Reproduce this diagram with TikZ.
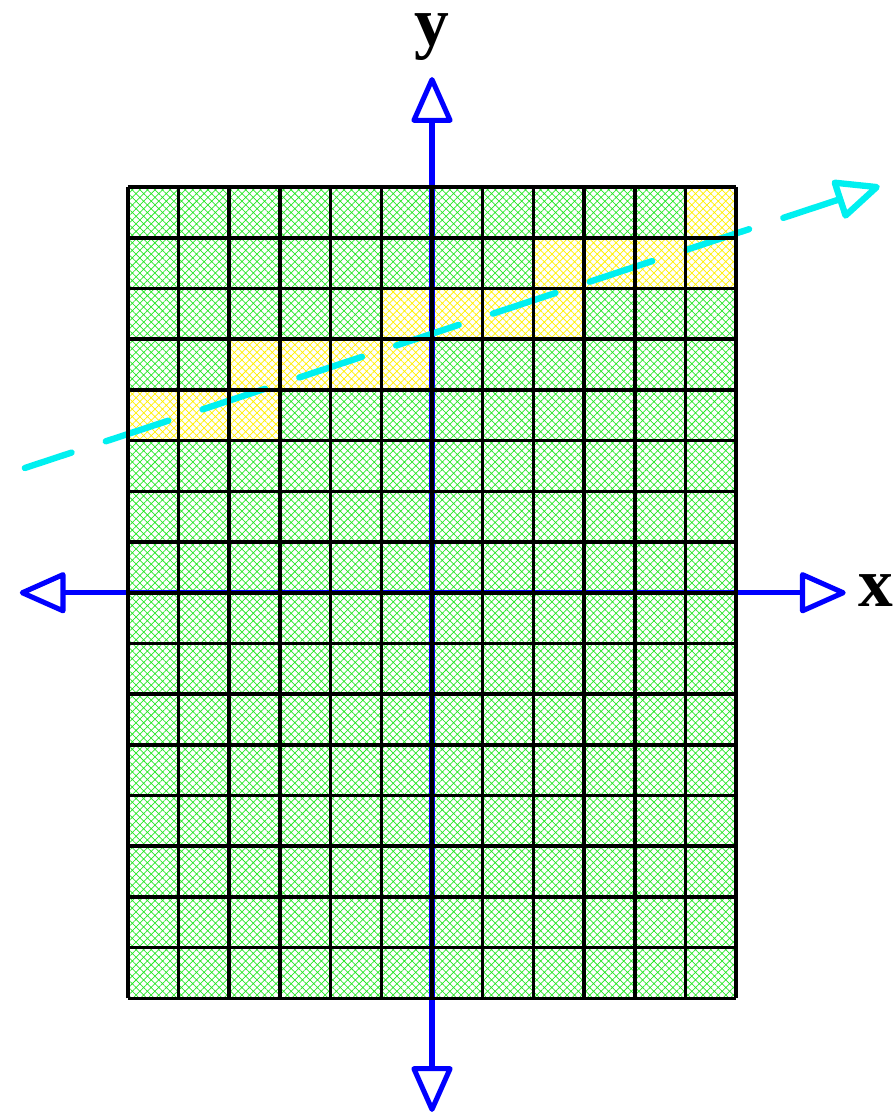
\documentclass[tikz,border=0pt]{standalone}
\usepackage{fontspec}
\setmainfont{Liberation Serif}
\usetikzlibrary{arrows.meta,patterns.meta}
\definecolor{raycyan}{RGB}{0,240,240}
\definecolor{cellgreen}{RGB}{40,230,40}
\definecolor{cellyellow}{RGB}{255,240,0}

\begin{document}
\begin{tikzpicture}
        \tikzset{opentri/.tip={Triangle[open, length=9.8mm, width=8.4mm, line join=round]},
                 axis/.style={opentri-opentri, line width=0.1cm, blue},
                 ray/.style={-opentri, line width=0.125cm, raycyan, line cap=round,
                             dash pattern=on 1.3cm off 0.71cm, dash phase=0.33cm},
                 cell/.style={pattern={Hatch[angle=45, distance=3pt, line width=0.4pt]}, pattern color=cellgreen},
                 hit/.style={pattern={Hatch[angle=45, distance=3pt, line width=0.4pt]}, pattern color=cellyellow},
                 lbl/.style={inner sep=0pt, font=\fontsize{39}{39}\selectfont\bfseries}}
        \useasboundingbox (-2.52,-2.32) rectangle (15.11,19.69);

        % cells
        \fill[cell] (0,0) rectangle (12,16);
        \foreach \i/\j in {0/11,1/11,2/11,2/12,3/12,4/12,5/12,5/13,6/13,7/13,8/13,8/14,9/14,10/14,11/14,11/15}
            {\fill[white] (\i,\j) rectangle ++(1,1);
             \fill[hit] (\i,\j) rectangle ++(1,1);}

        % x and y axes
        \coordinate (xl) at (-2.13,8);
        \coordinate (xr) at (14.16,8);
        \coordinate (yb) at (6,-2.24);
        \coordinate (yt) at (6,18.17);
        \draw[axis] (xl) -- (xr);
        \draw[axis] (yb) -- (yt);
        \node[lbl] (xlabel) at (14.75,8.05) {x};
        \node[lbl] (ylabel) at (6,18.95) {y};

        % dashed line
        \coordinate (rs) at (-2.03,10.46);
        \coordinate (re) at (14.83,16.02);
        \draw[ray] (rs) -- (re);

        \draw[line width=0.07cm] (0,0) grid (12,16);
\end{tikzpicture}
\end{document}
